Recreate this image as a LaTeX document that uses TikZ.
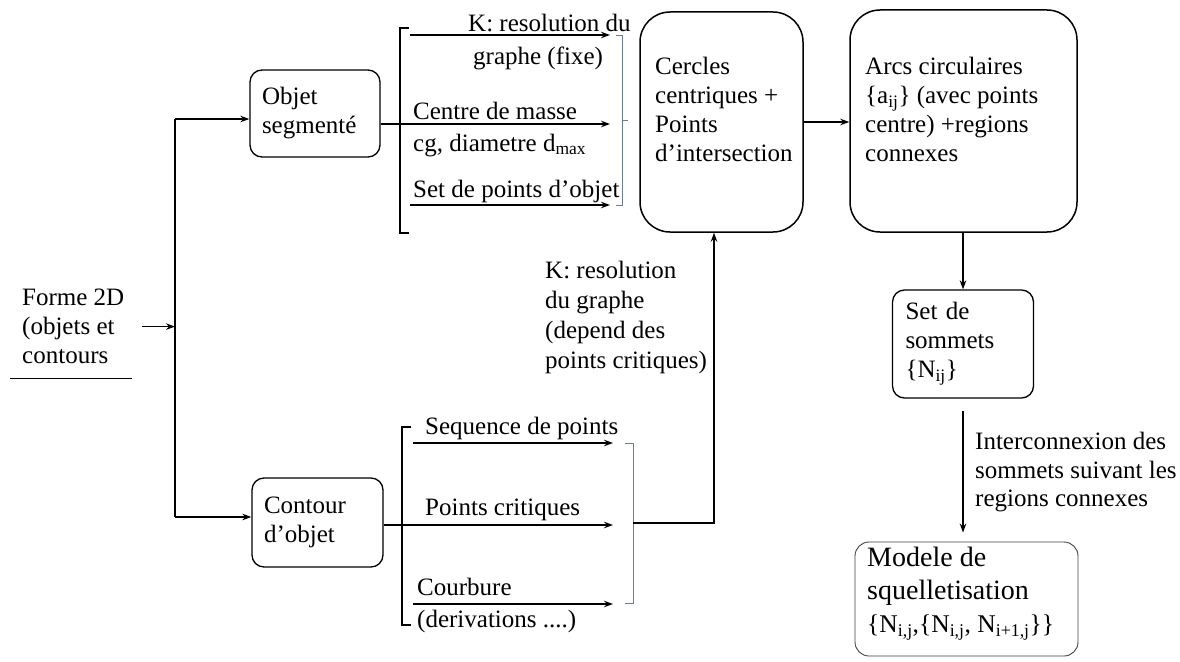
\documentclass[tikz,border=0pt]{standalone}
\usepackage{fontspec}
\setmainfont{Liberation Serif}
\usetikzlibrary{arrows.meta}
\definecolor{brk}{RGB}{110,125,140}
\begin{document}
\begin{tikzpicture}[x=1pt,y=-1pt,
  arr/.style={-{Stealth[length=9pt,width=6.5pt]}, line width=1.4pt},
  ln/.style={line width=1.4pt},
  thinb/.style={draw=brk, line width=0.9pt},
  box/.style={draw, rounded corners=12pt, line width=1.3pt, inner ysep=0pt, inner xsep=12pt, align=left, font=\fontsize{25}{29}\selectfont},
  bigbox/.style={draw, rounded corners=30pt, line width=1.5pt, inner sep=0pt},
  txt/.style={inner sep=0pt, align=left, font=\fontsize{25}{29}\selectfont},
  lbl/.style={inner sep=0pt, anchor=base west, font=\fontsize{25}{29}\selectfont}
]
\useasboundingbox (0,0) rectangle (1180,661);

% left text
\node[txt, anchor=north west] (forme) at (22,289) {Forme 2D\\(objets et\\contours};
\coordinate (ul1) at (10,378);
\coordinate (ul2) at (132,378);
\draw[line width=1pt] (ul1) -- (ul2);

% trunk
\coordinate (tt) at (175,119);
\coordinate (tb) at (175,517);
\draw[ln] (tt) -- (tb);

% boxes
\node[box, minimum width=130pt, minimum height=87pt, text width=106pt] (obj) at (315,113.5) {Objet\\segmenté};
\node[box, minimum width=131pt, minimum height=89pt, text width=107pt] (cont) at (317.5,522.5) {Contour\\d’objet};

\node[bigbox, minimum width=163pt, minimum height=220pt] (cerc) at (721.5,122) {};
\node[txt, anchor=north west] (cerct) at (655,57) {Cercles\\centriques +\\Points\\d’intersection};

\node[bigbox, minimum width=227pt, minimum height=222pt] (arcs) at (963.5,121) {};
\node[txt, anchor=north west] (arcst) at (865,57) {Arcs circulaires\\\{a\textsubscript{ij}\} (avec points\\centre) +regions\\connexes};

\node[box, minimum width=141pt, minimum height=108pt, text width=115pt, inner xsep=13pt] (sets) at (963,344) {Set de\\sommets\\\{N\textsubscript{ij}\}};

\node[draw=black!75, line width=0.9pt, rounded corners=14pt, inner sep=0pt, minimum width=223pt, minimum height=114pt] (mod) at (966.5,599) {};
\node[txt, anchor=north west, font=\fontsize{28}{33}\selectfont] (modt) at (867,547) {Modele de\\squelletisation\\{\fontsize{25.5}{33}\selectfont\{N\textsubscript{i,j},\{N\textsubscript{i,j}, N\textsubscript{i+1,j}\}\}}};

% connectors from trunk
\draw[arr] ([xshift=18pt]forme.east) -- (forme.east -| tt);
\draw[arr] (tt) -- (tt -| obj.west);
\draw[arr] (tb) -- (tb -| cont.west);

% top bracket group
\draw[ln] (409,28) -- (400,28) -- (400,233) -- (409,233);
\coordinate (a1s) at (410,35);  \coordinate (a1e) at (610,35);
\coordinate (a2e) at (610,124);
\coordinate (a3s) at (410,205); \coordinate (a3e) at (610,205);
\draw[arr] (a1s) -- (a1e);
\draw[arr] (obj.east |- a2e) -- (a2e);
\draw[arr] (a3s) -- (a3e);
\draw[thinb] (616,35) -- (622,35) -- (622,205) -- (616,205);
\draw[thinb] (622,120) -- (628,120);

\node[lbl] (l1) at (468,32) {K: resolution du};
\node[lbl] (l2) at (473,65) {graphe (fixe)};
\node[lbl] (l3) at (413,119) {Centre de masse};
\node[lbl] (l4) at (413,151) {cg, diametre d\textsubscript{max}};
\node[lbl] (l5) at (413,197) {Set de points d’objet};

% bottom bracket group
\draw[ln] (411,427) -- (402,427) -- (402,625) -- (411,625);
\coordinate (b1s) at (413,443); \coordinate (b1e) at (613,443);
\coordinate (b2e) at (613,525);
\coordinate (b3s) at (413,604); \coordinate (b3e) at (613,604);
\draw[arr] (b1s) -- (b1e);
\draw[arr] (cont.east |- b2e) -- (b2e);
\draw[arr] (b3s) -- (b3e);
\draw[thinb] (625,443) -- (633,443) -- (633,603) -- (625,603);
\coordinate (jr) at (633,523);
\coordinate (kc) at (714,523);
\draw[arr] (jr) -- (kc) -- (kc |- cerc.south);

\node[lbl] (m1) at (425,434) {Sequence de points};
\node[lbl] (m2) at (425,515) {Points critiques};
\node[lbl] (m3) at (417,595) {Courbure};
\node[lbl] (m4) at (417,627) {(derivations ....)};

\node[txt, anchor=north west, font=\fontsize{25}{30}\selectfont] (kres) at (545,261) {K: resolution\\du graphe\\(depend des\\points critiques)};

% right column
\draw[arr] (cerc.east) -- (cerc.east -| arcs.west);
\draw[arr] (sets.north |- arcs.south) -- (sets.north);
\draw[arr, shorten <=12pt, shorten >=9pt] (sets.south) -- (sets.south |- mod.north);
\node[txt, anchor=north west, font=\fontsize{25}{28.5}\selectfont] (inter) at (975,432) {Interconnexion des\\sommets suivant les\\regions connexes};
\end{tikzpicture}
\end{document}
